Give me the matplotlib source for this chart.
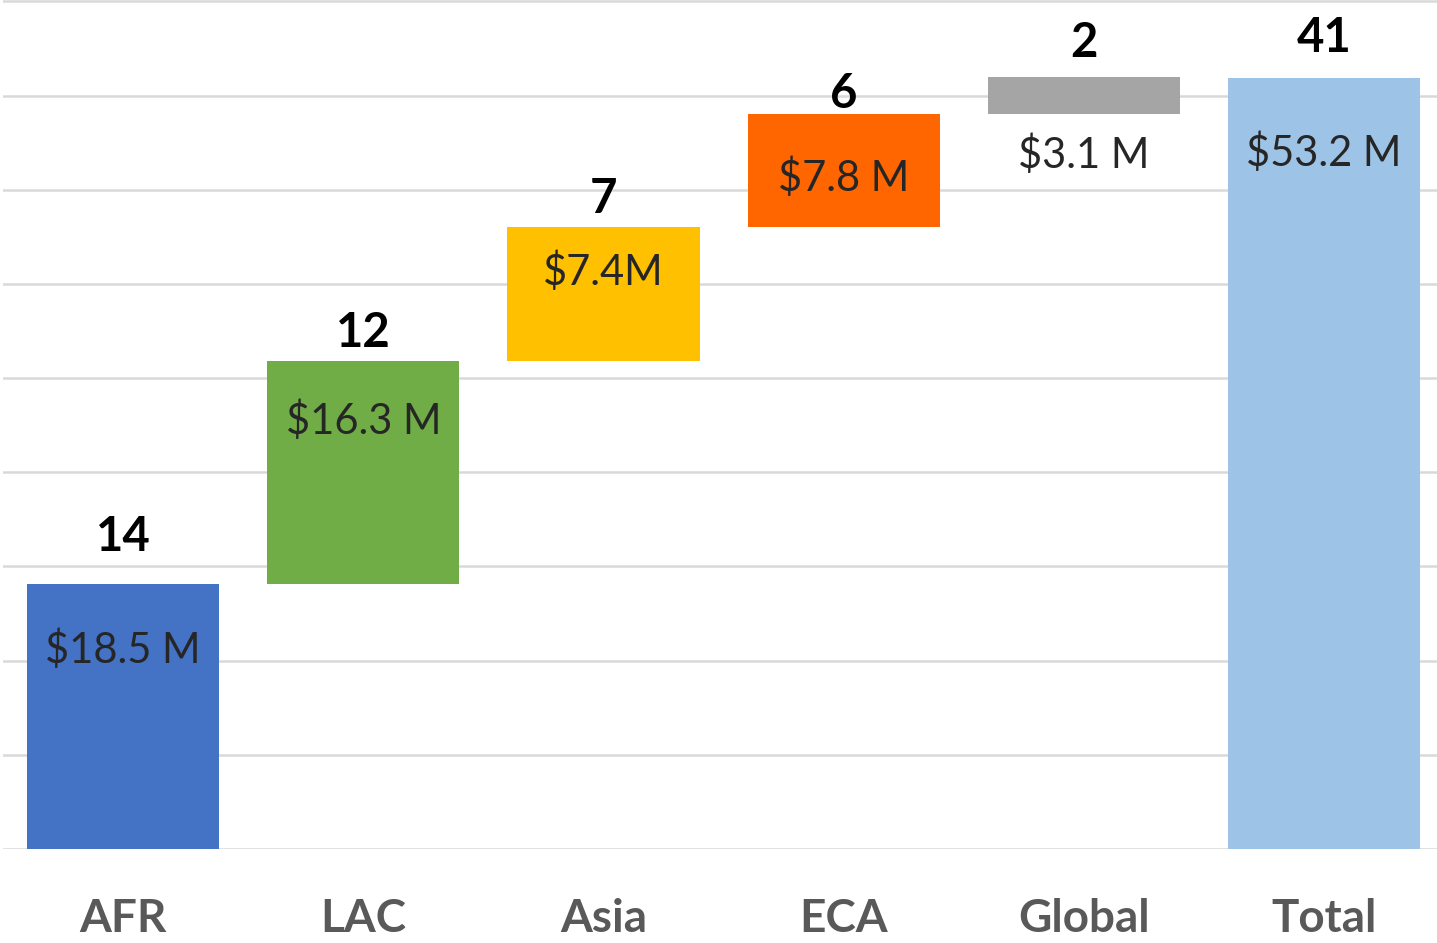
import matplotlib
matplotlib.use('Agg')
import matplotlib.pyplot as plt
import numpy as np

# waterfall data, $M (bar heights as drawn in the picture)
regions = ['AFR', 'LAC', 'Asia', 'ECA', 'Global', 'Total']
amounts = [18.3, 15.4, 9.2, 7.8, 2.6]
total = 53.2
counts = ['14', '12', '7', '6', '2', '41']
money_labels = ['$18.5 M', '$16.3 M', '$7.4M', '$7.8 M', '$3.1 M', '$53.2 M']
colors = ['#4472C4', '#70AD47', '#FFC000', '#FF6600', '#A5A5A5', '#9DC3E6']

plt.rcParams['font.family'] = ['Lato', 'DejaVu Sans']

fig = plt.figure(figsize=(14.37, 9.43), dpi=100)
H = 943.0
ax = fig.add_axes([3/1437, (H-849)/H, 1434/1437, 849/H])

bottoms = list(np.concatenate([[0], np.cumsum(amounts)[:-1]])) + [0]
heights = amounts + [total]
x = np.arange(len(regions))
ax.bar(x, heights, bottom=bottoms, width=0.80, color=colors, zorder=3)

ax.set_xlim(-0.5, -0.5 + 1434/240.2)
ax.set_ylim(0, 849/14.49)
ax.set_yticks(np.arange(0, 59, 6.5))
ax.yaxis.grid(True, color='#d9d9d9', lw=1.8, zorder=0)
ax.set_axisbelow(True)
for s in ax.spines.values():
    s.set_visible(False)
ax.tick_params(axis='y', left=False, labelleft=False)
ax.tick_params(axis='x', length=0, pad=35)
ax.set_xticks(x)
ax.set_xticklabels(regions, fontsize=33, fontweight='bold', color='#595959')

# label offsets in pixels (count above bar top, money from bar top/bottom)
count_off = [47, 28, 28, 20, 34, 40]
money_off = [-66, -60, -44, -63, -40, -75]
for i in range(len(regions)):
    top = bottoms[i] + heights[i]
    ax.annotate(counts[i], (x[i], top), xytext=(0, count_off[i]),
                textcoords='offset pixels', ha='center', va='center',
                fontsize=34, fontweight='bold', color='black')
    ref = bottoms[i] if i == 4 else top
    ax.annotate(money_labels[i], (x[i], ref), xytext=(0, money_off[i]),
                textcoords='offset pixels', ha='center', va='center',
                fontsize=30, color='#262626')

fig.savefig('out.png', dpi=100)
